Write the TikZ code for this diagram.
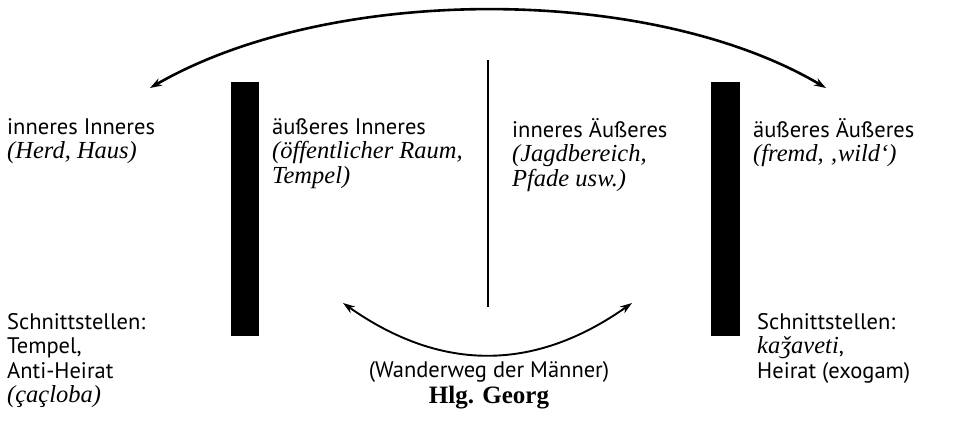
\documentclass[tikz,border=0pt]{standalone}
\usepackage{fontspec}
\setmainfont{PT Sans}
\newfontfamily\serifit{Liberation Serif}
\usetikzlibrary{arrows.meta}
\newcommand{\kursiv}[1]{{\serifit\itshape\fontsize{24.5}{24}\selectfont #1}}

\begin{document}
\begin{tikzpicture}[x=1pt,y=-1pt,
  txt/.style={anchor=north west,inner sep=0pt,align=left,
    font=\fontsize{22.5}{24.5}\selectfont,
    execute at begin node={\rule{0pt}{24pt}}},
  balken/.style={fill=black},
  weg/.style={{Stealth[length=12pt,width=8pt]}-{Stealth[length=12pt,width=8pt]}}]
\useasboundingbox (0,0) rectangle (955,427);

% Grenzen
\fill[balken] (231,82) rectangle (259,336);
\fill[balken] (711,82) rectangle (740,336);
\coordinate (mo) at (488,60);
\coordinate (mu) at (488,307);
\draw[line width=2pt] (mo) -- (mu);

% Bereiche
\node[txt] (ii) at (7,118) {inneres Inneres\\\kursiv{(Herd, Haus)}};
\node[txt] (ai) at (272,118) {äußeres Inneres\\\kursiv{(öffentlicher Raum,}\\\kursiv{Tempel)}};
\node[txt] (ia) at (512,118) {inneres Äußeres\\\kursiv{(Jagdbereich,}\\\kursiv{Pfade usw.)}};
\node[txt] (aa) at (753,118) {äußeres Äußeres\\\kursiv{(fremd, ‚wild‘)}};

% Schnittstellen
\node[txt] (sl) at (7,313) {Schnittstellen:\\Tempel,\\Anti-Heirat\\\kursiv{(çaçloba)}};
\node[txt] (sr) at (757,313) {Schnittstellen:\\\kursiv{kaǯaveti},\\Heirat (exogam)};
\node[txt,anchor=north,align=center] (wm) at (489,361) {(Wanderweg der Männer)\\[1.5pt]{\serifit\bfseries\fontsize{25}{24}\selectfont Hlg. Georg}};

% Wege
\coordinate (gl) at (150,88);
\coordinate (gr) at (826,88);
\draw[weg,line width=2.6pt] (gl) .. controls (330,-16) and (650,-16) .. (gr);
\coordinate (kl) at (343,303);
\coordinate (kr) at (632,303);
\draw[weg,line width=1.9pt] (kl) .. controls (441,372) and (534,372) .. (kr);
\end{tikzpicture}
\end{document}
